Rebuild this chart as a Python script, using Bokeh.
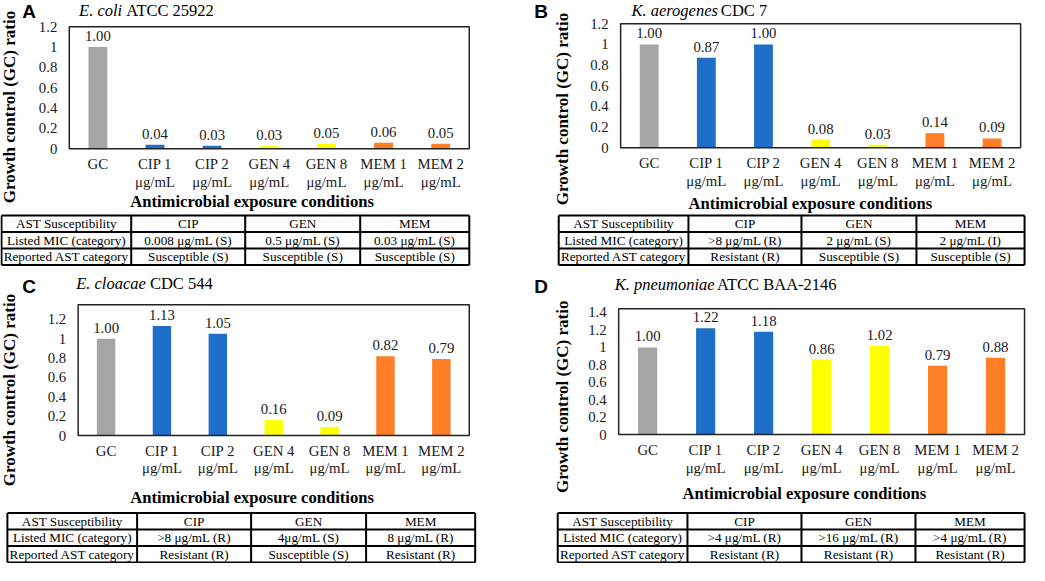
import math
from bokeh.plotting import figure
from bokeh.models import Range1d, ColumnDataSource
from bokeh.core.properties import value
from bokeh.embed import file_html
from bokeh.resources import INLINE

# ---------------- data ----------------
conditions = ["GC", "CIP 1\nμg/mL", "CIP 2\nμg/mL", "GEN 4\nμg/mL",
              "GEN 8\nμg/mL", "MEM 1\nμg/mL", "MEM 2\nμg/mL"]
bar_colors = ["#A5A5A5", "#1D6FC7", "#1D6FC7", "#FFFF00", "#FFFF00", "#FF7E26", "#FF7E26"]

ratio_a = [1.00, 0.04, 0.03, 0.03, 0.05, 0.06, 0.05]
ratio_b = [1.00, 0.87, 1.00, 0.08, 0.03, 0.14, 0.09]
ratio_c = [1.00, 1.13, 1.05, 0.16, 0.09, 0.82, 0.79]
ratio_d = [1.00, 1.22, 1.18, 0.86, 1.02, 0.79, 0.88]

panel_letters = ["A", "B", "C", "D"]
species = ["E. coli", "K. aerogenes", "E. cloacae", "K. pneumoniae"]
strain_ids = ["ATCC 25922", "CDC 7", "CDC 544", "ATCC BAA-2146"]

y_label = "Growth control (GC) ratio"
x_label = "Antimicrobial exposure conditions"

tick_values_12 = [0, 0.2, 0.4, 0.6, 0.8, 1.0, 1.2]
tick_labels_12 = ["0", "0.2", "0.4", "0.6", "0.8", "1", "1.2"]
tick_values_14 = [0, 0.2, 0.4, 0.6, 0.8, 1.0, 1.2, 1.4]
tick_labels_14 = ["0", "0.2", "0.4", "0.6", "0.8", "1", "1.2", "1.4"]

table_header = ["AST Susceptibility", "CIP", "GEN", "MEM"]
row_labels = ["Listed MIC (category)", "Reported AST category"]
mic_a = ["0.008 μg/mL (S)", "0.5 μg/mL (S)", "0.03 μg/mL (S)"]
ast_a = ["Susceptible (S)", "Susceptible (S)", "Susceptible (S)"]
mic_b = [">8 μg/mL (R)", "2 μg/mL (S)", "2 μg/mL (I)"]
ast_b = ["Resistant (R)", "Susceptible (S)", "Susceptible (S)"]
mic_c = [">8 μg/mL (R)", "4μg/mL (S)", "8 μg/mL (R)"]
ast_c = ["Resistant (R)", "Susceptible (S)", "Resistant (R)"]
mic_d = [">4 μg/mL (R)", ">16 μg/mL (R)", ">4 μg/mL (R)"]
ast_d = ["Resistant (R)", "Resistant (R)", "Resistant (R)"]

series = [ratio_a, ratio_b, ratio_c, ratio_d]
mics = [mic_a, mic_b, mic_c, mic_d]
asts = [ast_a, ast_b, ast_c, ast_d]

# ---------------- layout (reference pixel geometry) ----------------
W, H = 1027, 563
SX, SY = W / 1045, H / 581

SERIF = "Liberation Serif"
SANS = "Liberation Sans"
TXT = "#1a1a1a"

specs = [
    dict(frame=(70, 477, 27, 153), yend=1.2, ticks=(tick_values_12, tick_labels_12),
         letter=(29, 11), title=(80, 128, 10), ylab=(9, 110), xtitle=(256, 207),
         table=(222, 273), cols=[1, 133, 249, 366, 477]),
    dict(frame=(631, 1038, 24, 152), yend=1.2, ticks=(tick_values_12, tick_labels_12),
         letter=(550, 11), title=(642, 733, 10), ylab=(572, 112), xtitle=(824, 209),
         table=(222, 273), cols=[568, 700, 815, 932, 1042]),
    dict(frame=(79, 477, 314, 449), yend=1.35, ticks=(tick_values_12, tick_labels_12),
         letter=(29, 295), title=(77, 152, 292), ylab=(9, 402), xtitle=(256, 513),
         table=(529, 580), cols=[7, 139, 255, 372, 483]),
    dict(frame=(629, 1042, 318, 448), yend=1.444, ticks=(tick_values_14, tick_labels_14),
         letter=(550, 295), title=(625, 729, 293), ylab=(572, 409), xtitle=(818, 509),
         table=(529, 580), cols=[567, 699, 815, 931, 1042]),
]

p = figure(width=W, height=H, x_range=Range1d(0, W), y_range=Range1d(H, 0),
           x_axis_type=None, y_axis_type=None, title=None, toolbar_location=None,
           output_backend="svg", min_border=0, min_border_left=0, min_border_right=0,
           min_border_top=0, min_border_bottom=0,
           background_fill_color="white", border_fill_color="white")
p.outline_line_color = None

n = len(conditions)
centers = [k + 0.5 for k in range(n)]

for i, s in enumerate(specs):
    Lr, Rr, Tr, Br = s["frame"]
    L, R, T, B = SX * Lr, SX * Rr, SY * Tr, SY * Br
    yend = s["yend"]
    xn, yn = f"cat{i}", f"ratio{i}"
    xs0 = -L * n / (R - L)
    p.extra_x_ranges[xn] = Range1d(xs0, xs0 + n * W / (R - L))
    ys0 = -(H - B) * yend / (B - T)
    p.extra_y_ranges[yn] = Range1d(ys0, ys0 + yend * H / (B - T))

    vals = series[i]
    src = ColumnDataSource(dict(x=centers, cond=conditions, ratio=vals, color=bar_colors,
                                zero=[0] * n, lbl=[f"{v:.2f}" for v in vals]))
    kw = dict(x_range_name=xn, y_range_name=yn)
    p.vbar(x="x", top="ratio", bottom=0, width=0.33, fill_color="color",
           line_color=None, source=src, **kw)
    # plot-area box
    p.quad(left=[0], right=[n], bottom=[0], top=[yend], fill_color=None,
           line_color="#222222", line_width=1.5, **kw)
    # value labels
    p.text(x="x", y="ratio", text="lbl", source=src, text_align="center",
           text_baseline="bottom", y_offset=-6, text_font=value(SERIF),
           text_font_size="14.8px", text_color=TXT, **kw)
    # category axis labels
    p.text(x="x", y="zero", text="cond", source=src, text_align="center",
           text_baseline="top", y_offset=7, text_font=value(SERIF),
           text_font_size="14.8px", text_color=TXT, text_line_height=1.12, **kw)
    # value axis labels
    tv, tl = s["ticks"]
    p.text(x=[0] * len(tv), y=tv, text=tl, text_align="right", text_baseline="middle",
           x_offset=-12, text_font=value(SERIF), text_font_size="14.8px",
           text_color=TXT, **kw)

    # panel letter and strain title
    lx, ly = s["letter"]
    p.text(x=[SX * lx], y=[SY * ly], text=[panel_letters[i]], text_align="center",
           text_baseline="middle", text_font=value(SANS), text_font_style="bold",
           text_font_size="19px", text_color="black")
    t1, t2, ty = s["title"]
    p.text(x=[SX * t1], y=[SY * ty], text=[species[i]], text_align="left",
           text_baseline="middle", text_font=value(SERIF), text_font_style="italic",
           text_font_size="16.5px", text_color="black")
    p.text(x=[SX * t2], y=[SY * ty], text=[strain_ids[i]], text_align="left",
           text_baseline="middle", text_font=value(SERIF),
           text_font_size="16.5px", text_color="black")
    # axis titles
    yx, yy = s["ylab"]
    p.text(x=[SX * yx], y=[SY * yy], text=[y_label], angle=math.pi / 2,
           text_align="center", text_baseline="middle", text_font=value(SERIF),
           text_font_style="bold", text_font_size="17px", text_color="black")
    xx, xy = s["xtitle"]
    p.text(x=[SX * xx], y=[SY * xy], text=[x_label], text_align="center",
           text_baseline="middle", text_font=value(SERIF), text_font_style="bold",
           text_font_size="16.6px", text_color="black")

    # susceptibility table
    cx = [SX * c for c in s["cols"]]
    ty0, ty1 = s["table"]
    ry = [SY * (ty0 + k * (ty1 - ty0) / 3) for k in range(4)]
    p.segment(x0=[cx[0]] * 4, x1=[cx[-1]] * 4, y0=ry, y1=ry, line_color="black", line_width=2)
    p.segment(x0=cx, x1=cx, y0=[ry[0]] * 5, y1=[ry[-1]] * 5, line_color="black", line_width=2)
    rows_txt = [table_header, [row_labels[0]] + mics[i], [row_labels[1]] + asts[i]]
    tx, tyy, tt = [], [], []
    for r in range(3):
        for c in range(4):
            tx.append((cx[c] + cx[c + 1]) / 2)
            tyy.append((ry[r] + ry[r + 1]) / 2)
            tt.append(rows_txt[r][c])
    p.text(x=tx, y=tyy, text=tt, text_align="center", text_baseline="middle",
           text_font=value(SERIF), text_font_size="13.2px", text_color="black")

open("out.html", "w").write(file_html(p, INLINE))
